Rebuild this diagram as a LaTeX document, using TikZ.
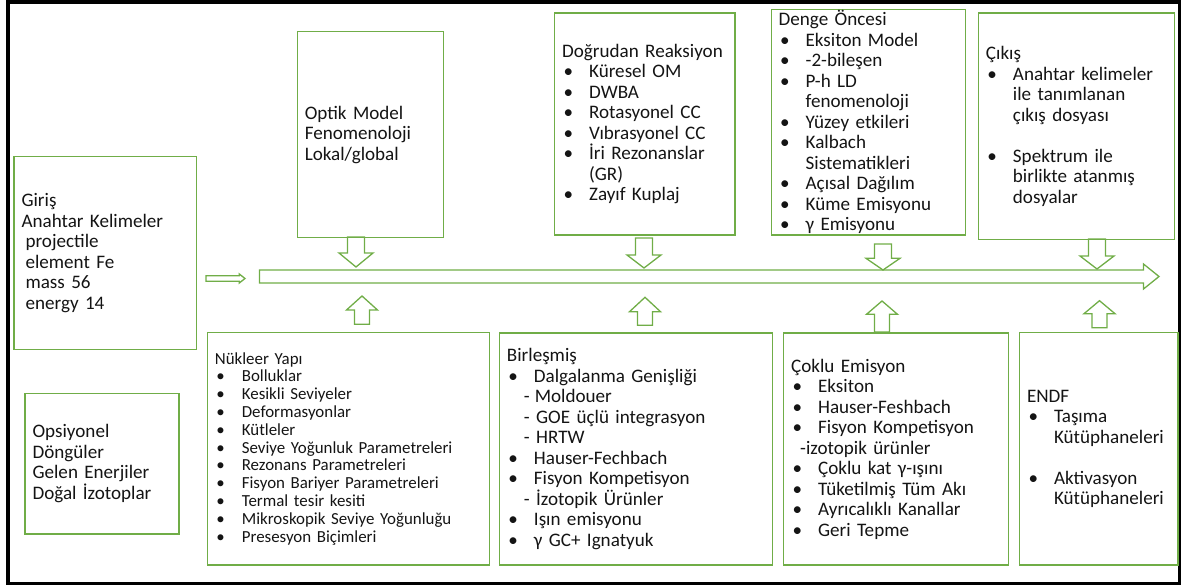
\documentclass[tikz,border=0pt]{standalone}
\usepackage{fontspec}
\setmainfont{Carlito}
\usepackage{tikz}
\usetikzlibrary{positioning}
\usepackage{xcolor}
\definecolor{boxgreen}{HTML}{70AD47}
\definecolor{txtgray}{HTML}{141414}
% bullet with hanging indent
\newcommand{\blt}{\makebox[27pt][l]{\hspace{1.5pt}\textbullet}}
\newcommand{\hang}{\hspace*{27pt}}

\begin{document}
\begin{tikzpicture}[x=1pt,y=-1pt,
    box/.style={draw=boxgreen, line width=1.3pt, anchor=north west, align=left,
        inner xsep=7.5pt, inner ysep=0pt, text=txtgray,
        font=\fontsize{19.1}{20.5}\selectfont},
    small/.style={font=\fontsize{16.9}{17.8}\selectfont},
    blk/.style={draw=boxgreen, line width=1.3pt}]
    \useasboundingbox (0,0) rectangle (1181,585);
    % outer frame
    \draw[line width=4pt] (8,2) rectangle (1180,583.5);

    % top row
    \node[box, text width=167.6pt, minimum height=193.3pt] (giris) at (13.4,155.7)
        {Giriş\\Anahtar Kelimeler\\\hspace*{4pt}projectile\\\hspace*{4pt}element Fe\\\hspace*{4pt}mass 56\\\hspace*{4pt}energy 14};
    \node[box, text width=131.4pt, minimum height=206pt] (optik) at (296.6,31)
        {Optik Model\\Fenomenoloji\\Lokal/global};
    \node[box, text width=165.3pt, minimum height=222pt] (dogrudan) at (554,12.3)
        {Doğrudan Reaksiyon\\\blt Küresel OM\\\blt DWBA\\\blt Rotasyonel CC\\\blt Vıbrasyonel CC\\\blt İri Rezonanslar\\\hang(GR)\\\blt Zayıf Kuplaj};
    \node[box, text width=179pt, minimum height=225.3pt] (denge) at (770.5,9)
        {Denge Öncesi\\\blt Eksiton Model\\\blt -2-bileşen\\\blt P-h LD\\\hang fenomenoloji\\\blt Yüzey etkileri\\\blt Kalbach\\\hang Sistematikleri\\\blt Açısal Dağılım\\\blt Küme Emisyonu\\\blt γ Emisyonu};
    \node[box, text width=180.9pt, minimum height=226.7pt] (cikis) at (977.8,12.3)
        {Çıkış\\\blt Anahtar kelimeler\\\hang ile tanımlanan\\\hang çıkış dosyası\\[20.5pt]\blt Spektrum ile\\\hang birlikte atanmış\\\hang dosyalar};

    % bottom row
    \node[box, text width=138.9pt, minimum height=140.6pt] (opsiyonel) at (24.4,392.7)
        {Opsiyonel\\Döngüler\\Gelen Enerjiler\\Doğal İzotoplar};
    \node[box, small, text width=267.3pt, minimum height=232.6pt] (nukleer) at (206.7,331.7)
        {Nükleer Yapı\\\blt Bolluklar\\\blt Kesikli Seviyeler\\\blt Deformasyonlar\\\blt Kütleler\\\blt Seviye Yoğunluk Parametreleri\\\blt Rezonans Parametreleri\\\blt Fisyon Bariyer Parametreleri\\\blt Termal tesir kesiti\\\blt Mikroskopik Seviye Yoğunluğu\\\blt Presesyon Biçimleri};
    \node[box, text width=258.2pt, minimum height=232pt] (birlesmis) at (498.8,332.3)
        {Birleşmiş\\\blt Dalgalanma Genişliği\\\hspace*{17pt}-\hspace{5pt}Moldouer\\\hspace*{17pt}- GOE üçlü integrasyon\\\hspace*{17pt}- HRTW\\\blt Hauser-Fechbach\\\blt Fisyon Kompetisyon\\\hspace*{17pt}- İzotopik Ürünler\\\blt Işın emisyonu\\\blt γ GC+ Ignatyuk};
    \node[box, text width=209.8pt, minimum height=232pt] (coklu) at (783,332.3)
        {Çoklu Emisyon\\\blt Eksiton\\\blt Hauser-Feshbach\\\blt Fisyon Kompetisyon\\\hspace*{9pt}-izotopik ürünler\\\blt Çoklu kat γ-ışını\\\blt Tüketilmiş Tüm Akı\\\blt Ayrıcalıklı Kanallar\\\blt Geri Tepme};
    \node[box, text width=143.4pt, minimum height=232.3pt] (endf) at (1018.9,332)
        {ENDF\\\blt Taşıma\\\hang Kütüphaneleri\\[20.5pt]\blt Aktivasyon\\\hang Kütüphaneleri};

    % main flow arrow
    \draw[blk] (259.5,270) -- (1143.5,270) -- (1143.5,264) -- (1159,276.5)
        -- (1143.5,289) -- (1143.5,283) -- (259.5,283) -- cycle;
    % input arrow
    \draw[blk] (206,275.7) -- (239.3,275.7) -- (239.3,274) -- (245,278.5)
        -- (239.3,283) -- (239.3,281.3) -- (206,281.3) -- cycle;
    % down arrows into the flow
    \foreach \xc/\yt/\yb/\yp in {356/237/253/267, 644/238/255/268, 883/244/258.3/270, 1097/239/256/269}
        \draw[blk] (\xc-8.5,\yt) -- (\xc+8.5,\yt) -- (\xc+8.5,\yb) -- (\xc+17,\yb)
            -- (\xc,\yp) -- (\xc-17,\yb) -- (\xc-8.5,\yb) -- cycle;
    % up arrows into the flow
    \foreach \xc/\yt/\yb/\yp in {362/324.3/310/296, 645/325.3/311.7/297.3, 882/332/314.3/301, 1099.5/327.7/313.7/300.7}
        \draw[blk] (\xc-7.5,\yt) -- (\xc+7.5,\yt) -- (\xc+7.5,\yb) -- (\xc+15.5,\yb)
            -- (\xc,\yp) -- (\xc-15.5,\yb) -- (\xc-7.5,\yb) -- cycle;
\end{tikzpicture}
\end{document}
